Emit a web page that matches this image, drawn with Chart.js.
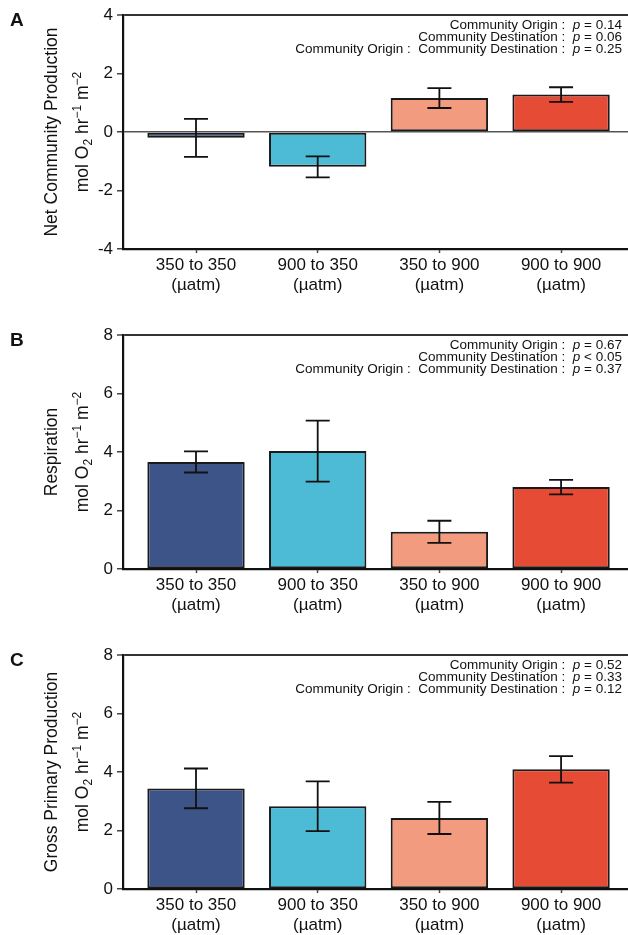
<!DOCTYPE html>
<html>
<head>
<meta charset="utf-8">
<script src="https://cdn.jsdelivr.net/npm/chart.js@4.4.1/dist/chart.umd.min.js"></script>
<style>
  html, body { margin: 0; padding: 0; background: #fff; overflow: hidden; width: 628px; height: 935px; }
  .panel { position: absolute; left: 0; width: 628px; height: 320px; }
  canvas { display: block; }
</style>
</head>
<body>
<div class="panel" style="top:0"><canvas id="ncpChart" width="628" height="320"></canvas></div>
<div class="panel" style="top:320px"><canvas id="respChart" width="628" height="320"></canvas></div>
<div class="panel" style="top:640px"><canvas id="gppChart" width="628" height="320"></canvas></div>
<script>
// treatments (origin to destination pCO2)
const categories = ['350 to 350', '900 to 350', '350 to 900', '900 to 900'];
const catUnit = '(µatm)';
const xPos = [1, 2, 3, 4];
const barColors = ['#3C5488', '#4DBBD5', '#F39B7F', '#E64B35'];

// A - net community production
const ncpMeans = [-0.20, -1.19, 1.16, 1.28];
const ncpErr = [0.65, 0.36, 0.34, 0.25];
const ncpTicks = [-4, -2, 0, 2, 4];
const ncpP = ['= 0.14', '= 0.06', '= 0.25'];

// B - respiration
const respMeans = [3.66, 4.03, 1.27, 2.80];
const respErr = [0.36, 1.04, 0.38, 0.25];
const respTicks = [0, 2, 4, 6, 8];
const respP = ['= 0.67', '< 0.05', '= 0.37'];

// C - gross primary production
const gppMeans = [3.44, 2.83, 2.43, 4.09];
const gppErr = [0.68, 0.85, 0.55, 0.45];
const gppTicks = [0, 2, 4, 6, 8];
const gppP = ['= 0.52', '= 0.33', '= 0.12'];

const effectNames = ['Community Origin :  ', 'Community Destination :  ', 'Community Origin :  Community Destination :  '];

const FONT = '"Liberation Sans", Arial, Helvetica, sans-serif';
Chart.defaults.font.family = FONT;
Chart.defaults.color = '#111';

// draw a run of text pieces (different size / style / baseline shift)
function segWidth(ctx, segs) {
    let w = 0;
    segs.forEach(s => {
        ctx.font = (s.italic ? 'italic ' : '') + s.size + 'px ' + FONT;
        w += ctx.measureText(s.t).width;
    });
    return w;
}
function drawSegs(ctx, segs, x, y) {
    segs.forEach(s => {
        ctx.font = (s.italic ? 'italic ' : '') + s.size + 'px ' + FONT;
        ctx.fillText(s.t, x, y + (s.dy || 0));
        x += ctx.measureText(s.t).width;
    });
}

function makePanel(id, letter, titleText, means, errs, yTicks, pVals) {
    const yMin = yTicks[0], yMax = yTicks[yTicks.length - 1];

    const errorBars = {
        id: 'errorBars',
        afterDatasetsDraw(chart) {
            const ctx = chart.ctx, ys = chart.scales.y;
            const meta = chart.getDatasetMeta(0);
            ctx.save();
            ctx.strokeStyle = '#111';
            ctx.lineWidth = 1.8;
            meta.data.forEach((bar, i) => {
                const top = ys.getPixelForValue(means[i] + errs[i]);
                const bot = ys.getPixelForValue(means[i] - errs[i]);
                ctx.beginPath();
                ctx.moveTo(bar.x, top); ctx.lineTo(bar.x, bot);
                ctx.moveTo(bar.x - 12, top); ctx.lineTo(bar.x + 12, top);
                ctx.moveTo(bar.x - 12, bot); ctx.lineTo(bar.x + 12, bot);
                ctx.stroke();
            });
            ctx.restore();
        }
    };

    const labels = {
        id: 'labels',
        afterDraw(chart) {
            const ctx = chart.ctx, area = chart.chartArea;
            ctx.save();
            ctx.fillStyle = '#111';

            // panel letter
            ctx.font = 'bold 19px ' + FONT;
            ctx.textBaseline = 'middle';
            ctx.textAlign = 'left';
            ctx.fillText(letter, 10, 21);

            // statistics, right aligned
            ctx.textBaseline = 'middle';
            effectNames.forEach((name, i) => {
                const segs = [
                    { t: name, size: 13.5 },
                    { t: 'p', size: 13.5, italic: true },
                    { t: ' ' + pVals[i], size: 13.5 }
                ];
                const w = segWidth(ctx, segs);
                drawSegs(ctx, segs, 622 - w, 25 + i * 12);
            });

            // y axis title, two rotated lines
            const cy = (area.top + area.bottom) / 2;
            const line1 = [{ t: titleText, size: 17.5 }];
            const line2 = [
                { t: 'mol O', size: 17.5 },
                { t: '2', size: 12, dy: 4 },
                { t: ' hr', size: 17.5 },
                { t: '\u22121', size: 12, dy: -7 },
                { t: ' m', size: 17.5 },
                { t: '\u22122', size: 12, dy: -7 }
            ];
            ctx.textBaseline = 'alphabetic';
            [[line1, 57], [line2, 88]].forEach(([segs, bx]) => {
                ctx.save();
                ctx.translate(bx, cy);
                ctx.rotate(-Math.PI / 2);
                drawSegs(ctx, segs, -segWidth(ctx, segs) / 2, 0);
                ctx.restore();
            });
            ctx.restore();
        }
    };

    return new Chart(document.getElementById(id), {
        type: 'bar',
        data: {
            datasets: [{
                data: xPos.map((x, i) => ({ x: x, y: means[i] })),
                backgroundColor: barColors,
                borderColor: '#1a1a1a',
                borderWidth: 2,
                borderSkipped: false,
                barPercentage: 0.8,
                categoryPercentage: 1
            }]
        },
        options: {
            responsive: false,
            animation: false,
            layout: { padding: { top: 15, left: 0, right: 0, bottom: 0 } },
            plugins: { legend: { display: false }, tooltip: { enabled: false } },
            scales: {
                x: {
                    type: 'linear',
                    offset: false,
                    min: 0.4,
                    max: 4.55,
                    afterBuildTicks: s => { s.ticks = xPos.map(v => ({ value: v })); },
                    afterFit: s => { s.height = 71; },
                    ticks: {
                        callback: v => [categories[xPos.indexOf(v)], catUnit],
                        font: { size: 17 },
                        color: '#111',
                        padding: 2,
                        maxRotation: 0,
                        autoSkip: false
                    },
                    grid: { offset: false, drawOnChartArea: false, drawTicks: true, tickLength: 4, tickColor: '#444', tickWidth: 1.5 },
                    border: { display: true, color: '#111', width: 2.2 }
                },
                y: {
                    min: yMin,
                    max: yMax,
                    afterBuildTicks: s => { s.ticks = yTicks.map(v => ({ value: v })); },
                    afterFit: s => { s.width = 123; },
                    ticks: { callback: v => String(v), font: { size: 17 }, color: '#111', padding: 4 },
                    grid: {
                        drawTicks: true,
                        tickLength: 6,
                        tickColor: '#444',
                        tickWidth: 1.5,
                        lineWidth: c => (c.tick && c.tick.value === yMax ? 2 : 1.5),
                        color: c => {
                            if (!c.tick) return 'rgba(0,0,0,0)';
                            if (c.tick.value === yMax) return '#333';
                            if (c.tick.value === 0 && yMin < 0) return '#555';
                            return 'rgba(0,0,0,0)';
                        }
                    },
                    border: { display: true, color: '#111', width: 2.2 }
                }
            }
        },
        plugins: [errorBars, labels]
    });
}

makePanel('ncpChart', 'A', 'Net Community Production', ncpMeans, ncpErr, ncpTicks, ncpP);
makePanel('respChart', 'B', 'Respiration', respMeans, respErr, respTicks, respP);
makePanel('gppChart', 'C', 'Gross Primary Production', gppMeans, gppErr, gppTicks, gppP);
</script>
</body>
</html>
